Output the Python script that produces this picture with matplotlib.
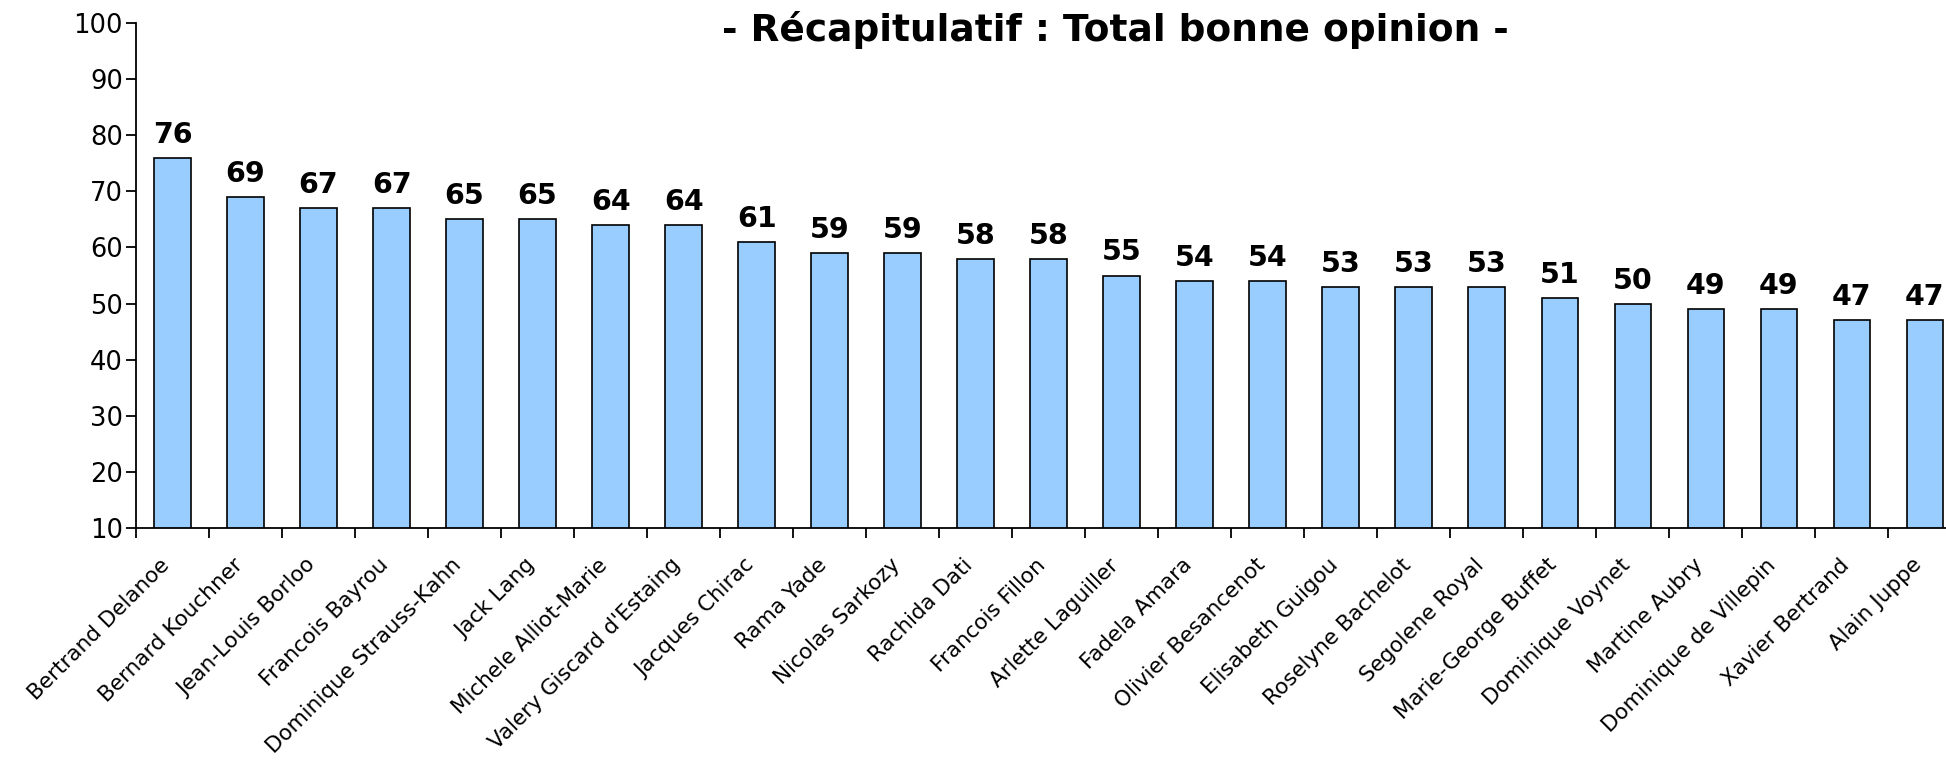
import numpy as np
import matplotlib
matplotlib.use("Agg")
import matplotlib.pyplot as plt
from matplotlib.transforms import ScaledTranslation

# Names and "total bonne opinion" scores (%)
names = ["Bertrand Delanoe", "Bernard Kouchner", "Jean-Louis Borloo", "Francois Bayrou",
         "Dominique Strauss-Kahn", "Jack Lang", "Michele Alliot-Marie",
         "Valery Giscard d'Estaing", "Jacques Chirac", "Rama Yade", "Nicolas Sarkozy",
         "Rachida Dati", "Francois Fillon", "Arlette Laguiller", "Fadela Amara",
         "Olivier Besancenot", "Elisabeth Guigou", "Roselyne Bachelot", "Segolene Royal",
         "Marie-George Buffet", "Dominique Voynet", "Martine Aubry",
         "Dominique de Villepin", "Xavier Bertrand", "Alain Juppe"]
scores = [76, 69, 67, 67, 65, 65, 64, 64, 61, 59, 59, 58, 58, 55, 54, 54,
          53, 53, 53, 51, 50, 49, 49, 47, 47]
yticks = [10, 20, 30, 40, 50, 60, 70, 80, 90, 100]

plt.rcParams['font.family'] = ['DejaVu Sans']

fig = plt.figure(figsize=(19.46, 7.6), dpi=100)
ax = fig.add_axes([0.0699, 0.3053, 1 - 0.0699, 0.9697 - 0.3053])

x = np.arange(len(names))
bars = ax.bar(x, scores, width=0.5, color='#99CCFF', edgecolor='black', linewidth=1.2)

for xi, v in zip(x, scores):
    ax.annotate(str(v), (xi, v), xytext=(0, 6.5), textcoords='offset points',
                ha='center', va='bottom', fontsize=20.5, fontweight='bold')

ax.set_ylim(10, 100)
ax.set_xlim(-0.5, 24.29)
ax.set_yticks(yticks)
ax.tick_params(axis='y', labelsize=18.5, length=7, width=1.3, direction='out', pad=2.5)

# category labels at bar centres, tick marks at the boundaries
ax.set_xticks(x)
ax.set_xticklabels(names, rotation=45, ha='right', va='center',
                   rotation_mode='anchor', fontsize=15.5)
ax.tick_params(axis='x', which='major', length=0, pad=28)
shift = ScaledTranslation(-0.06, 0.05, fig.dpi_scale_trans)
for lab in ax.get_xticklabels():
    lab.set_transform(lab.get_transform() + shift)
ax.set_xticks(np.arange(len(names)) - 0.5, minor=True)
ax.tick_params(axis='x', which='minor', length=7, width=1.3, direction='out')

for s in ['top', 'right']:
    ax.spines[s].set_visible(False)
for s in ['left', 'bottom']:
    ax.spines[s].set_linewidth(1.3)

fig.text(0.573, 0.96, "- Récapitulatif : Total bonne opinion -", ha='center', va='center',
         fontsize=27, fontweight='bold')

fig.savefig("out.png", dpi=100)
